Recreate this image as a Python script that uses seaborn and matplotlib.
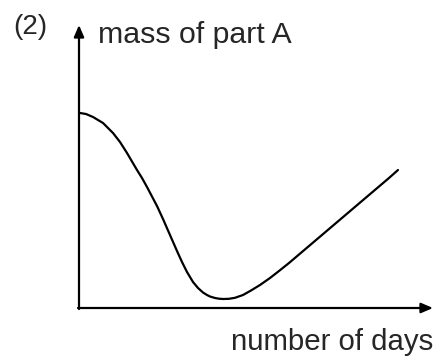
import numpy as np
import pandas as pd
import matplotlib.pyplot as plt
import seaborn as sns

# curve (arbitrary units, origin at the axes corner)
days = [1, 7, 14, 24, 34, 41, 48, 58, 63, 68, 78, 84, 91, 98, 103, 108,
        114, 119, 124, 128, 131, 136, 140, 144, 150, 156, 164, 172, 181,
        191, 200, 210, 220, 230, 240, 250, 260, 270, 280, 290, 300, 310, 319]
mass = [195, 194, 191, 185, 175, 166, 155, 138, 130, 121, 102, 89, 73, 57,
        46, 36, 26, 20, 15.5, 13, 11.5, 10, 9.3, 9, 9.2, 10.2, 13, 17.5, 23,
        30, 37, 45, 53.5, 62, 70.5, 79, 87.5, 96, 104.5, 113, 121.5, 130, 138]

label_x = 'number of days'
label_y = 'mass of part A'
panel = '(2)'

df = pd.DataFrame({'days': days, 'mass': mass})

sns.set_style('white')
plt.rcParams['font.family'] = ['Liberation Sans', 'DejaVu Sans']

fig = plt.figure(figsize=(4.42, 3.58), dpi=100)
ax = fig.add_axes([0, 0, 1, 1])

sns.lineplot(data=df, x='days', y='mass', color='black', linewidth=1.6,
             sort=False, ax=ax)

# axes drawn as arrows
arrow = dict(arrowstyle='-|>,head_length=0.7,head_width=0.3', lw=1.6,
             color='black', shrinkA=0, shrinkB=0)
ax.annotate('', xy=(354, 0), xytext=(-1, 0), arrowprops=arrow)
ax.annotate('', xy=(0, 283), xytext=(0, -1), arrowprops=arrow)

ax.text(19, 265, label_y, fontsize=21.8, va='baseline', ha='left')
ax.text(-66, 274, panel, fontsize=20, va='baseline', ha='left')
ax.text(354, -42, label_x, fontsize=21.2, va='baseline', ha='right')

ax.set_xlim(-79, 363)
ax.set_ylim(-50, 308)
ax.set_axis_off()

fig.savefig('out.png', dpi=100)
